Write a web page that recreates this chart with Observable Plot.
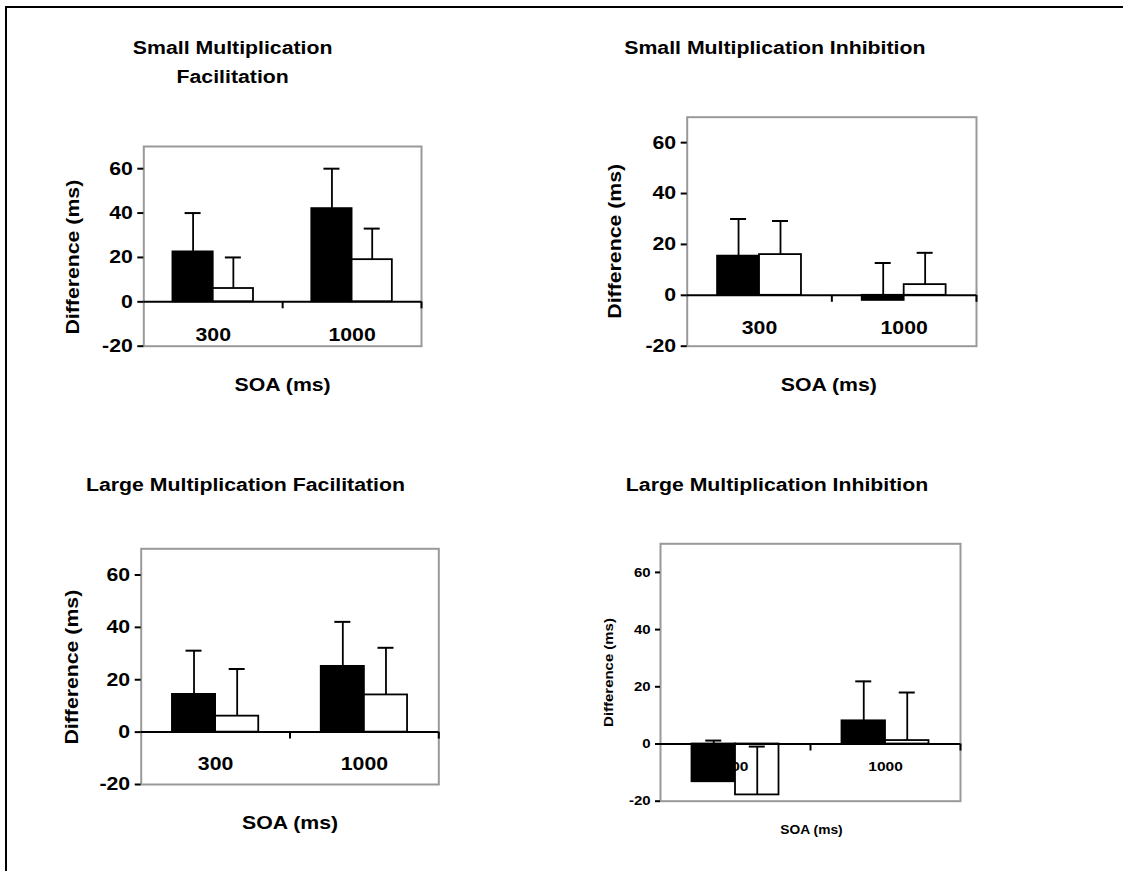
<!DOCTYPE html>
<html><head><meta charset="utf-8">
<script src="https://cdn.jsdelivr.net/npm/d3@7"></script>
<script src="https://cdn.jsdelivr.net/npm/@observablehq/plot@0.6"></script>
<style>
body{margin:0;background:#fff;}
#wrap{position:relative;width:1123px;height:871px;overflow:hidden;background:#fff;}
#border{position:absolute;left:5px;top:6px;right:-10px;bottom:-10px;border-top:2px solid #000;border-left:2px solid #000;}
.panel{position:absolute;}
</style></head><body><div id="wrap"><div id="border"></div></div>
<script>
const categories = ["300", "1000"];
const series = ["filled", "open"];
const yTicks = [-20, 0, 20, 40, 60];
const yTickLabels = ["-20", "0", "20", "40", "60"];
const yDomain = [-20, 70];
const yLabel = "Difference (ms)";
const xLabel = "SOA (ms)";
const titles = [
  "Small Multiplication\nFacilitation",
  "Small Multiplication Inhibition",
  "Large Multiplication Facilitation",
  "Large Multiplication Inhibition"
];
// order: [300 filled, 300 open, 1000 filled, 1000 open]
const smallFacMeans = [22.5, 6, 42, 19];
const smallFacErrors = [17.5, 14, 18, 14];
const smallInhMeans = [15.4, 16, -2, 4.2];
const smallInhErrors = [14.6, 13.2, 14.7, 12.5];
const largeFacMeans = [14.4, 6.1, 25.1, 14.2];
const largeFacErrors = [16.7, 18, 17, 18];
const largeInhMeans = [-13.2, -17.8, 8.1, 1.2];
const largeInhErrors = [14.4, 16.9, 13.8, 16.8];

const FONT = "'Liberation Sans', Arial, Helvetica, sans-serif";
const STRETCH = 1.15;

function rows(means, errs) {
  return means.map((m, i) => ({cat: categories[Math.floor(i / 2)], s: series[i % 2], mean: m, err: errs[i]}));
}

const panels = [
  {means: smallFacMeans, errs: smallFacErrors, title: titles[0], left: 0, top: 0, width: 561, height: 430,
   mL: 143.3, mT: 146, mR: 140, mB: 84.3, tickFont: 18.5, labelFont: 18.5, catFont: 18.5, xFont: 18.5,
   yLdx: -71, yLdy: 10.8, xLdx: 0, xLdy: 39.3, catDy: 33, tdx: -50, tdy: -87.3, tickSize: 6},
  {means: smallInhMeans, errs: smallInhErrors, title: titles[1], left: 561, top: 0, width: 562, height: 430,
   mL: 125.7, mT: 116.7, mR: 147, mB: 84.3, tickFont: 18.5, labelFont: 18.5, catFont: 18.5, xFont: 18.5,
   yLdx: -71.7, yLdy: 9.6, xLdx: -3, xLdy: 39.3, catDy: 32.7, tdx: -57, tdy: -72.2, tickSize: 6},
  {means: largeFacMeans, errs: largeFacErrors, title: titles[2], left: 0, top: 430, width: 561, height: 441,
   mL: 140.7, mT: 118.3, mR: 122.7, mB: 87, tickFont: 18.5, labelFont: 18.5, catFont: 18.5, xFont: 18.5,
   yLdx: -69, yLdy: 0.5, xLdx: 0, xLdy: 39, catDy: 32, tdx: -44.5, tdy: -66.8, tickSize: 6},
  {means: largeInhMeans, errs: largeInhErrors, title: titles[3], left: 561, top: 430, width: 562, height: 441,
   mL: 99, mT: 113.3, mR: 163, mB: 70.3, tickFont: 13, labelFont: 13, catFont: 13.5, xFont: 12,
   yLdx: -52, yLdy: 0, xLdx: 1, xLdy: 29, catDy: 23, tdx: -33.5, tdy: -61.8, tickSize: 5}
];

const wrap = document.getElementById("wrap");
const CAP = 16;

for (const p of panels) {
  const data = rows(p.means, p.errs);
  const filled = data.filter(d => d.s === "filled");
  const open = data.filter(d => d.s === "open");
  const bw = (p.width - p.mL - p.mR) / categories.length;
  const a = 0.21, c1 = 0.355, c2 = 0.645;
  const chart = Plot.plot({
    width: p.width, height: p.height,
    marginLeft: p.mL, marginTop: p.mT, marginRight: p.mR, marginBottom: p.mB,
    style: {fontFamily: FONT, background: "transparent", overflow: "visible", color: "#000"},
    x: {type: "band", domain: categories, paddingInner: 0, paddingOuter: 0, round: false, axis: null},
    y: {domain: yDomain},
    marks: [
      Plot.frame({stroke: "#999", strokeWidth: 2}),
      Plot.barY(filled, {x: "cat", y: "mean", fill: "#000", stroke: "#000", strokeWidth: 1.8, insetLeft: a * bw, insetRight: 0.5 * bw}),
      Plot.barY(open, {x: "cat", y: "mean", fill: "#fff", stroke: "#000", strokeWidth: 1.8, insetLeft: 0.5 * bw, insetRight: a * bw}),
      Plot.text(categories, {x: d => d, y: 0, text: d => d, dy: p.catDy, fontSize: p.catFont, fontWeight: "bold", fill: "#000", lineAnchor: "middle"}),
      Plot.ruleX(filled, {x: "cat", y1: "mean", y2: d => d.mean + d.err, dx: (c1 - 0.5) * bw, stroke: "#000", strokeWidth: 1.8}),
      Plot.ruleX(open, {x: "cat", y1: "mean", y2: d => d.mean + d.err, dx: (c2 - 0.5) * bw, stroke: "#000", strokeWidth: 1.8}),
      Plot.tickY(filled, {x: "cat", y: d => d.mean + d.err, insetLeft: c1 * bw - CAP / 2, insetRight: (1 - c1) * bw - CAP / 2, stroke: "#000", strokeWidth: 2}),
      Plot.tickY(open, {x: "cat", y: d => d.mean + d.err, insetLeft: c2 * bw - CAP / 2, insetRight: (1 - c2) * bw - CAP / 2, stroke: "#000", strokeWidth: 2}),
      Plot.ruleY([0], {stroke: "#000", strokeWidth: 2}),
      Plot.ruleX(categories, {x: d => d, y1: 0, y2: 0, dx: bw / 2, insetTop: 7, stroke: "#000", strokeWidth: 2}),
      Plot.axisY({ticks: yTicks, tickFormat: d => yTickLabels[yTicks.indexOf(d)], tickSize: p.tickSize, tickPadding: 5,
        fontSize: p.tickFont, fontWeight: "bold", stroke: "#000", fill: "#000", strokeWidth: 2, line: true, label: null}),
      Plot.text([yLabel], {text: d => d, frameAnchor: "left", textAnchor: "middle", lineAnchor: "middle", rotate: -90, dx: p.yLdx, dy: p.yLdy, fontSize: p.labelFont, fontWeight: "bold", fill: "#000"}),
      Plot.text([xLabel], {text: d => d, frameAnchor: "bottom", textAnchor: "middle", lineAnchor: "middle", dx: p.xLdx, dy: p.xLdy, fontSize: p.xFont, fontWeight: "bold", fill: "#000"}),
      Plot.text([p.title], {text: d => d, frameAnchor: "top", textAnchor: "middle", lineAnchor: "middle", dx: p.tdx, dy: p.tdy, fontSize: 18.5, fontWeight: "bold", fill: "#000", lineHeight: 1.54})
    ]
  });
  chart.querySelectorAll("text").forEach(t => {
    const tr = t.getAttribute("transform");
    if (tr) t.setAttribute("transform", tr + ` scale(${STRETCH},1)`);
  });
  chart.classList.add("panel");
  chart.style.left = p.left + "px";
  chart.style.top = p.top + "px";
  wrap.appendChild(chart);
}
</script>
</body></html>
